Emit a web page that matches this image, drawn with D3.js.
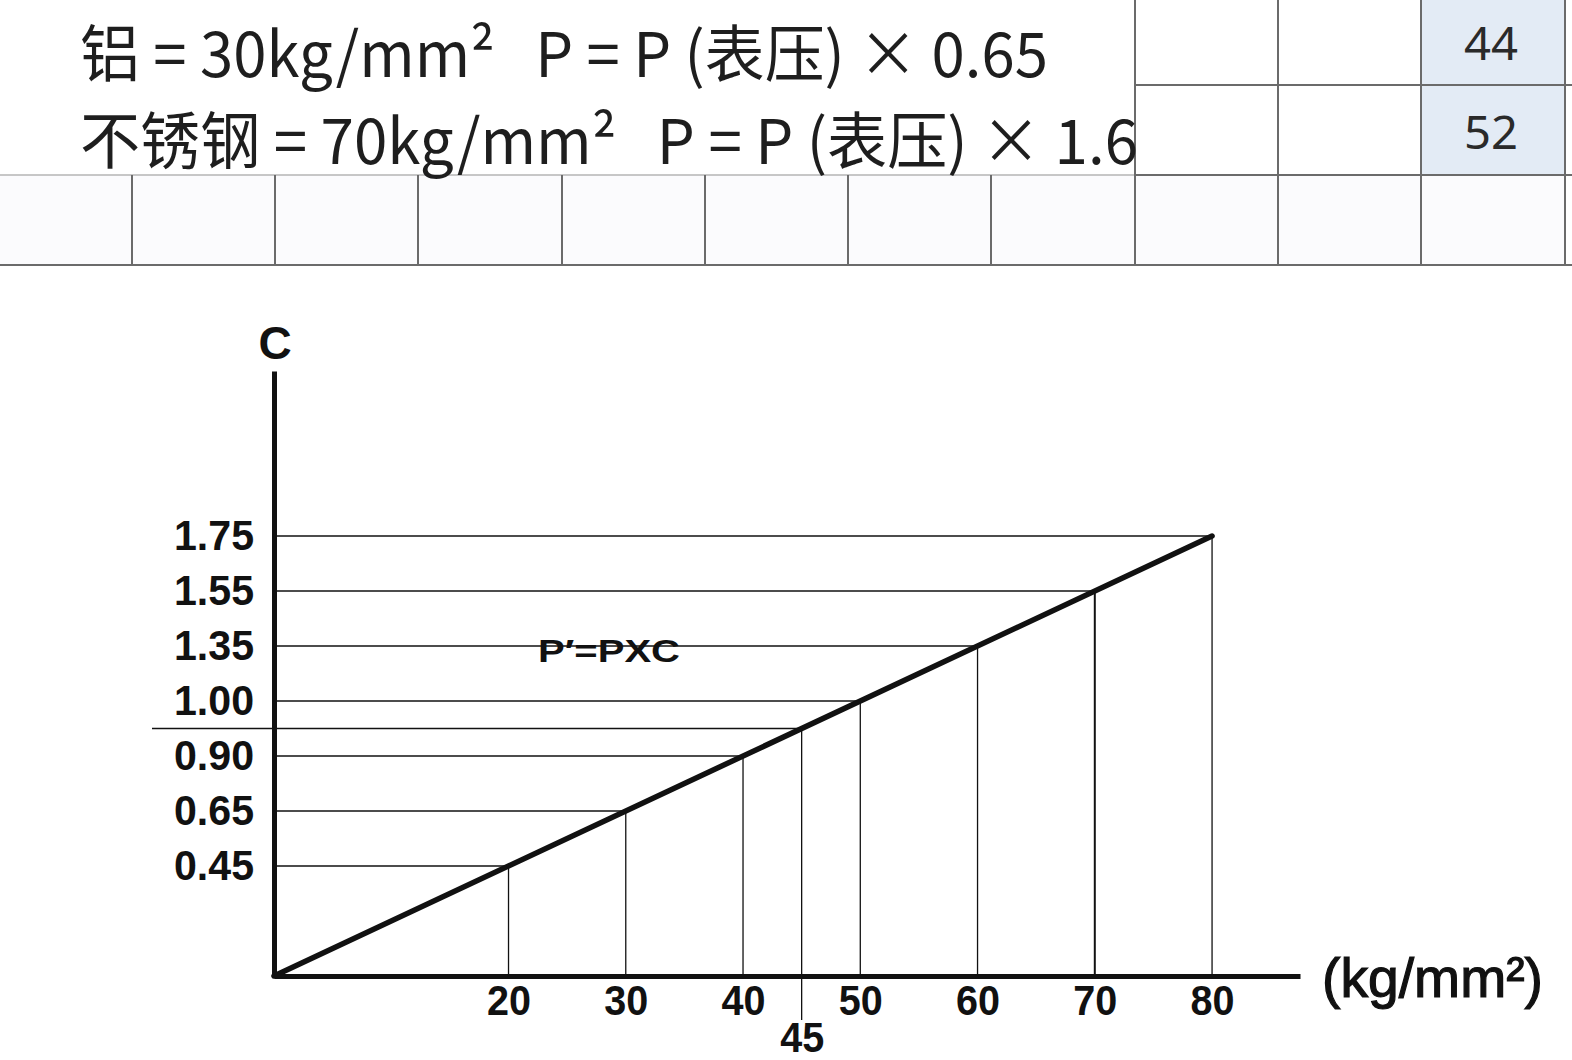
<!DOCTYPE html>
<html>
<head>
<meta charset="utf-8">
<script src="https://cdn.jsdelivr.net/npm/d3@7"></script>
<style>
  body { margin: 0; background: #fff; }
  svg { display: block; }
  .formula { white-space: pre; }
</style>
</head>
<body>
<svg id="chart"></svg>
<script>
const width = 1572;
const height = 1060;

// table at the top
const tableCols = [0, 132, 275, 418, 562, 705, 848, 991, 1135, 1278, 1421, 1565, 1572];
const tableValues = ["44", "52"];
const formulaLines = [
  "铝 = 30kg/mm²   P = P (表压) × 0.65",
  "不锈钢 = 70kg/mm²   P = P (表压) × 1.6"
];

// chart data: tensile strength (kg/mm²) vs coefficient C
const strengths = [20, 30, 40, 45, 50, 60, 70, 80];
const cLabels = ["0.45", "0.65", "0.90", "", "1.00", "1.35", "1.55", "1.75"];
const xTicks = [20, 30, 40, 50, 60, 70, 80];
const xTickLow = [45];
const refStrength = 45;

const svg = d3.select("#chart")
  .attr("width", width)
  .attr("height", height);

svg.append("rect").attr("width", width).attr("height", height).attr("fill", "#fff");

//1. top table
var table = svg.append("g");
// fills
table.append("rect").attr("x", 0).attr("y", 175).attr("width", 1565).attr("height", 90).attr("fill", "#fbfbfd");
table.selectAll("rect.val")
  .data(tableValues).enter()
  .append("rect")
  .attr("class", "val")
  .attr("x", 1421).attr("y", (d, i) => i * 88)
  .attr("width", 144).attr("height", 88)
  .attr("fill", "#e3ebf5");

const gridColor = "#6b6b6b";
// horizontal lines
table.append("line").attr("x1", 0).attr("x2", 1135).attr("y1", 175).attr("y2", 175)
  .attr("stroke", "#b5b5b5").attr("stroke-width", 1.5);
table.append("line").attr("x1", 1135).attr("x2", 1572).attr("y1", 175).attr("y2", 175)
  .attr("stroke", gridColor).attr("stroke-width", 2);
table.append("line").attr("x1", 1135).attr("x2", 1572).attr("y1", 85).attr("y2", 85)
  .attr("stroke", gridColor).attr("stroke-width", 2);
table.append("line").attr("x1", 0).attr("x2", 1572).attr("y1", 265).attr("y2", 265)
  .attr("stroke", gridColor).attr("stroke-width", 2);
// vertical lines
table.selectAll("line.col")
  .data(tableCols.slice(1, -1)).enter()
  .append("line")
  .attr("class", "col")
  .attr("x1", d => d).attr("x2", d => d)
  .attr("y1", d => d >= 1135 ? 0 : 175)
  .attr("y2", 265)
  .attr("stroke", gridColor).attr("stroke-width", 2);

table.selectAll("text.val")
  .data(tableValues).enter()
  .append("text")
  .attr("class", "val")
  .attr("x", 1491).attr("y", (d, i) => 60 + i * 89)
  .attr("text-anchor", "middle")
  .attr("font-family", "'Noto Sans', sans-serif")
  .attr("font-size", 46)
  .attr("fill", "#2a2a2a")
  .attr("textLength", 54)
  .attr("lengthAdjust", "spacingAndGlyphs")
  .text(d => d);

const formulaWidths = [968, 1058];
table.selectAll("text.formula")
  .data(formulaLines).enter()
  .append("text")
  .attr("class", "formula")
  .attr("x", 80).attr("y", (d, i) => 77 + i * 87)
  .attr("font-family", "'Noto Sans CJK SC', sans-serif")
  .attr("font-weight", 400)
  .attr("font-size", 62)
  .attr("fill", "#1e1e1e")
  .attr("textLength", (d, i) => formulaWidths[i])
  .attr("lengthAdjust", "spacingAndGlyphs")
  .text(d => d);

//2. chart scales
var xScale = d3.scaleLinear().domain([0, 87.5]).range([274, 1300]);
var yScale = d3.scaleLinear().domain([0, 110]).range([976, 371]);

var chart = svg.append("g");
const guideColor = "#111";

// horizontal guides from the axis to the curve
chart.selectAll("line.hguide")
  .data(strengths).enter()
  .append("line")
  .attr("class", "hguide")
  .attr("x1", d => d === refStrength ? 152 : xScale(0))
  .attr("x2", d => xScale(d))
  .attr("y1", d => yScale(d)).attr("y2", d => yScale(d))
  .attr("stroke", guideColor).attr("stroke-width", 1.3);

// vertical guides from the curve to the axis
chart.selectAll("line.vguide")
  .data(strengths).enter()
  .append("line")
  .attr("class", "vguide")
  .attr("x1", d => xScale(d)).attr("x2", d => xScale(d))
  .attr("y1", d => yScale(d))
  .attr("y2", d => d === refStrength ? 1020 : yScale(0))
  .attr("stroke", guideColor).attr("stroke-width", d => d === 70 ? 2 : 1.3);

// main line
var line = d3.line().x(d => xScale(d)).y(d => yScale(d));
chart.append("path")
  .datum([0, 80])
  .attr("d", line)
  .attr("fill", "none")
  .attr("stroke", "#111")
  .attr("stroke-width", 5.5)
  .attr("stroke-linecap", "round");

// axes
const labelFont = "'Liberation Sans', Arial, sans-serif";
var cByStrength = {};
strengths.forEach((s, i) => cByStrength[s] = cLabels[i]);

var yAxis = d3.axisLeft(yScale)
  .tickValues(strengths.filter(s => cByStrength[s] !== ""))
  .tickFormat(s => cByStrength[s])
  .tickSize(0)
  .tickSizeOuter(0)
  .tickPadding(20);
var yAxisG = chart.append("g")
  .attr("transform", `translate(${xScale(0)},0)`)
  .call(yAxis);

var xAxis = d3.axisBottom(xScale)
  .tickValues(xTicks)
  .tickSize(0)
  .tickSizeOuter(0)
  .tickPadding(8);
var xAxisG = chart.append("g")
  .attr("transform", `translate(0,${yScale(0)})`)
  .call(xAxis);

var xAxisLow = d3.axisBottom(xScale)
  .tickValues(xTickLow)
  .tickSize(0)
  .tickPadding(45);
var xAxisLowG = chart.append("g")
  .attr("transform", `translate(0,${yScale(0)})`)
  .call(xAxisLow);
xAxisLowG.select(".domain").remove();

[yAxisG, xAxisG].forEach(g => g.select(".domain")
  .attr("stroke", "#111")
  .attr("stroke-width", 5));

[yAxisG, xAxisG, xAxisLowG].forEach(g => g.selectAll("text")
  .attr("font-family", labelFont)
  .attr("font-weight", "bold")
  .attr("font-size", 43)
  .attr("fill", "#111")
  .attr("textLength", function() { return this.textContent.length === 4 ? 80 : 44; })
  .attr("lengthAdjust", "spacingAndGlyphs"));

// axis titles and formula
chart.append("text")
  .attr("x", 275).attr("y", 359)
  .attr("text-anchor", "middle")
  .attr("font-family", labelFont)
  .attr("font-weight", "bold")
  .attr("font-size", 46)
  .attr("fill", "#111")
  .text("C");

chart.append("text")
  .attr("x", 1322).attr("y", 997)
  .attr("font-family", labelFont)
  .attr("font-size", 56)
  .attr("fill", "#111")
  .attr("stroke", "#111")
  .attr("stroke-width", 1.2)
  .attr("textLength", 221)
  .attr("lengthAdjust", "spacingAndGlyphs")
  .text("(kg/mm²)");

chart.append("text")
  .attr("x", 538).attr("y", 662)
  .attr("font-family", labelFont)
  .attr("font-weight", "bold")
  .attr("font-size", 32)
  .attr("fill", "#111")
  .attr("textLength", 142)
  .attr("lengthAdjust", "spacingAndGlyphs")
  .text("P′=PXC");
</script>
</body>
</html>
